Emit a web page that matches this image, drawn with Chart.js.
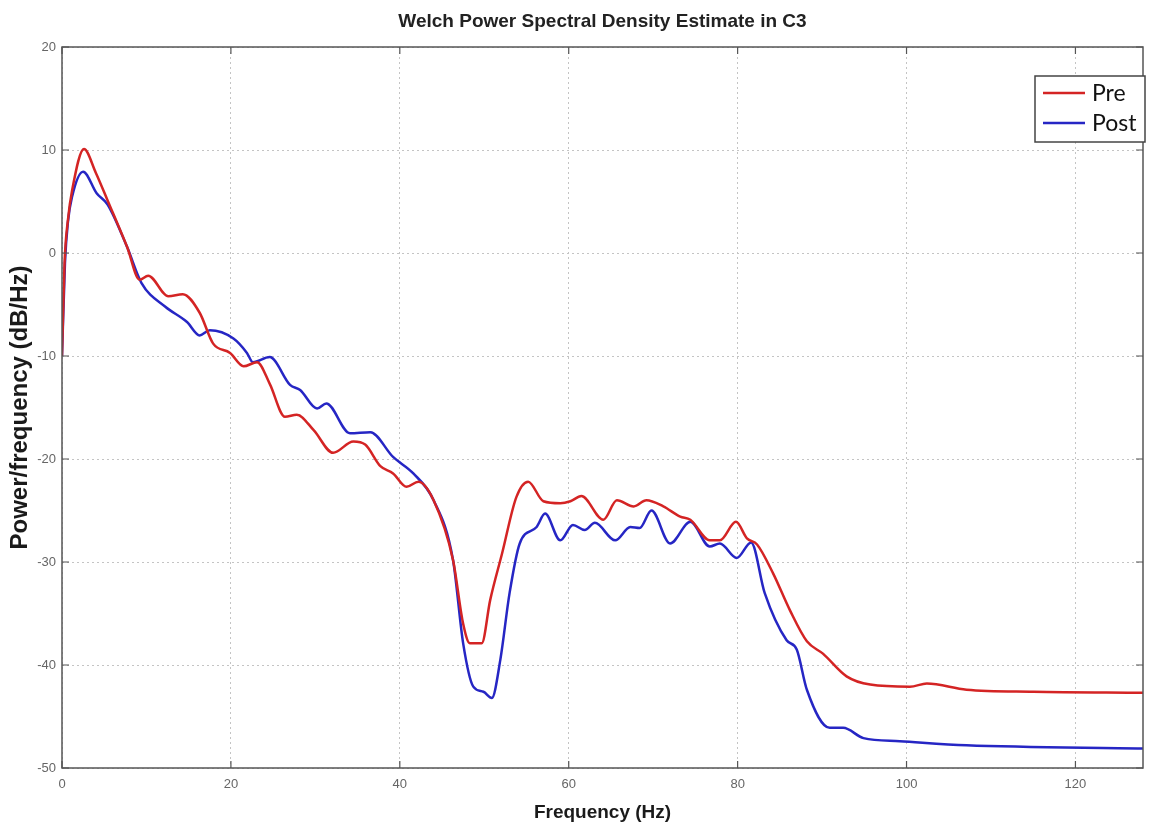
<!DOCTYPE html>
<html lang="en">
<head>
    <meta charset="UTF-8">
    <title>Welch PSD</title>
    <script src="https://cdn.jsdelivr.net/npm/chart.js@4.4.0/dist/chart.umd.min.js"></script>
    <style>
        html, body { margin: 0; padding: 0; background: #fff; }
        #wrap { width: 1157px; height: 827px; }
    </style>
</head>
<body>
    <div id="wrap"><canvas id="psd"></canvas></div>

    <script>
        // Values (Hz, dB/Hz)
        var preFreq = [0, 0.3, 0.7, 1.2, 2.6, 4.0, 5.4, 7.7, 9.2, 10.2, 12.6, 14.3, 16.3, 17.9, 19.9, 21.5, 23.1, 24.6,
            26.4, 27.8, 29.8, 32.1, 34.5, 35.9, 37.7, 39.2, 40.8, 42.2, 44.0, 46.3, 47.5, 48.3, 49.7, 50.7, 52.1,
            53.8, 55.2, 57.0, 59.0, 60.2, 61.5, 64.1, 65.7, 67.7, 69.2, 71.2, 73.2, 74.4, 76.7, 77.9, 79.8, 81.1,
            82.3, 84.2, 86.2, 88.2, 90.1, 92.9, 95.7, 100.4, 102.4, 107.1, 115, 128];
        var preDb = [-10, -1, 3.2, 6.1, 10.1, 7.8, 5.1, 0.6, -2.6, -2.2, -4.2, -4.0, -5.8, -8.8, -9.7, -11.0, -10.6, -12.7,
            -15.9, -15.7, -17.2, -19.4, -18.3, -18.6, -20.7, -21.4, -22.7, -22.2, -24.0, -29.8, -36.0, -37.9, -37.9, -33.7, -29.2,
            -23.7, -22.2, -24.1, -24.3, -24.1, -23.6, -25.9, -24.0, -24.6, -24.0, -24.6, -25.6, -25.9, -27.9, -27.9, -26.1, -27.7,
            -28.3, -31.1, -34.7, -37.7, -38.9, -41.1, -41.9, -42.1, -41.8, -42.4, -42.6, -42.7];

        var postFreq = [0, 0.35, 0.7, 1.2, 2.5, 4.1, 5.4, 7.7, 9.4, 12.2, 14.8, 16.3, 17.5, 20.3, 21.9, 22.6, 24.6, 27.0,
            28.2, 30.2, 31.3, 34.1, 36.5, 39.2, 41.6, 44.0, 46.3, 47.5, 48.7, 49.9, 50.9, 51.9, 53.0, 54.2, 56.2,
            57.2, 59.0, 60.5, 61.9, 63.1, 65.5, 67.3, 68.4, 69.8, 72.0, 74.4, 76.7, 77.9, 79.9, 81.6, 83.2, 85.8,
            87.0, 88.2, 90.9, 92.5, 94.9, 99.2, 107.1, 128];
        var postDb = [-10, -1, 3.0, 5.5, 7.9, 5.8, 4.7, 0.6, -2.9, -5.2, -6.7, -8.0, -7.5, -8.3, -9.7, -10.6, -10.1, -12.8,
            -13.3, -15.1, -14.6, -17.5, -17.4, -19.8, -21.4, -24.0, -29.8, -37.9, -42.1, -42.6, -43.2, -39.5, -33.0, -28.2, -26.6,
            -25.3, -27.9, -26.4, -26.9, -26.2, -27.9, -26.6, -26.7, -25.0, -28.2, -26.1, -28.5, -28.2, -29.6, -28.1, -33.0, -37.6,
            -38.5, -42.4, -46.1, -46.1, -47.1, -47.4, -47.8, -48.1];

        var seriesNames = ['Pre', 'Post'];
        var chartTitle = 'Welch Power Spectral Density Estimate in C3';
        var xTicks = [0, 20, 40, 60, 80, 100, 120];
        var yTicks = [-50, -40, -30, -20, -10, 0, 10, 20];

        var RED = '#d42424';
        var BLUE = '#2626c4';

        // zip two arrays into {x, y} points
        function toPoints(xs, ys) {
            return xs.map(function(x, i) { return {x: x, y: ys[i]}; });
        }

        // MATLAB style box, inward ticks, title and legend drawn over the plot
        var matlabFrame = {
            id: 'matlabFrame',
            afterDraw: function(chart) {
                var ctx = chart.ctx;
                var a = chart.chartArea;
                var xs = chart.scales.x, ys = chart.scales.y;
                ctx.save();
                ctx.setLineDash([]);
                ctx.strokeStyle = '#555';
                ctx.lineWidth = 1.5;
                ctx.strokeRect(a.left, a.top, a.right - a.left, a.bottom - a.top);

                ctx.lineWidth = 1.2;
                ctx.beginPath();
                xTicks.forEach(function(v) {
                    var px = xs.getPixelForValue(v);
                    ctx.moveTo(px, a.bottom); ctx.lineTo(px, a.bottom - 7);
                    ctx.moveTo(px, a.top); ctx.lineTo(px, a.top + 7);
                });
                yTicks.forEach(function(v) {
                    var py = ys.getPixelForValue(v);
                    ctx.moveTo(a.left, py); ctx.lineTo(a.left + 7, py);
                    ctx.moveTo(a.right, py); ctx.lineTo(a.right - 7, py);
                });
                ctx.stroke();

                // title, centred over the axes box
                ctx.fillStyle = '#222';
                ctx.font = "bold 19px 'Liberation Sans', Arial, sans-serif";
                ctx.textAlign = 'center';
                ctx.textBaseline = 'middle';
                ctx.fillText(chartTitle, (a.left + a.right) / 2, 22);

                // legend
                var right = a.right + 2, top = a.top + 29;
                var left = right - 110, bottom = top + 66;
                ctx.fillStyle = '#fff';
                ctx.fillRect(left, top, right - left, bottom - top);
                ctx.strokeStyle = '#444';
                ctx.lineWidth = 1.5;
                ctx.strokeRect(left, top, right - left, bottom - top);

                chart.data.datasets.forEach(function(ds, i) {
                    var ly = top + 17 + i * 30;
                    ctx.strokeStyle = ds.borderColor;
                    ctx.lineWidth = 2.5;
                    ctx.beginPath();
                    ctx.moveTo(left + 8, ly); ctx.lineTo(left + 50, ly);
                    ctx.stroke();
                    ctx.fillStyle = '#111';
                    ctx.font = '23px Lato';
                    ctx.textBaseline = 'middle';
                    ctx.textAlign = 'left';
                    ctx.fillText(ds.label, left + 57, ly + 1);
                });
                ctx.restore();
            }
        };

        Chart.defaults.font.family = "'Liberation Sans', Arial, sans-serif";

        new Chart(document.getElementById('psd'), {
            type: 'line',
            data: {
                datasets: [
                    {label: seriesNames[0], data: toPoints(preFreq, preDb), borderColor: RED, borderWidth: 2.5,
                        pointRadius: 0, cubicInterpolationMode: 'monotone', fill: false},
                    {label: seriesNames[1], data: toPoints(postFreq, postDb), borderColor: BLUE, borderWidth: 2.5,
                        pointRadius: 0, cubicInterpolationMode: 'monotone', fill: false}
                ]
            },
            options: {
                responsive: true,
                maintainAspectRatio: false,
                animation: false,
                layout: {padding: {left: 0, right: 14, top: 47, bottom: 0}},
                plugins: {
                    legend: {display: false},
                    tooltip: {enabled: false},
                    title: {display: false}
                },
                scales: {
                    x: {
                        type: 'linear',
                        min: 0, max: 128,
                        afterFit: function(s) { s.height = 59; },
                        border: {display: false, dash: [2, 3]},
                        grid: {color: '#c4c4c4', lineWidth: 1, drawTicks: false},
                        ticks: {stepSize: 20, includeBounds: false, padding: 9, color: '#666', font: {size: 13}},
                        title: {display: true, text: 'Frequency (Hz)', color: '#1a1a1a',
                            font: {size: 19, weight: 'bold', lineHeight: 1.2}, padding: {top: 3, bottom: 3}}
                    },
                    y: {
                        min: -50, max: 20,
                        afterFit: function(s) { s.width = 62; },
                        border: {display: false, dash: [2, 3]},
                        grid: {color: '#c4c4c4', lineWidth: 1, drawTicks: false},
                        ticks: {stepSize: 10, padding: 6, color: '#666', font: {size: 13}},
                        title: {display: true, text: 'Power/frequency (dB/Hz)', color: '#1a1a1a',
                            font: {size: 24, weight: 'bold', lineHeight: 1.1}, padding: {top: 7, bottom: 7}}
                    }
                }
            },
            plugins: [matlabFrame]
        });
    </script>
</body>
</html>
